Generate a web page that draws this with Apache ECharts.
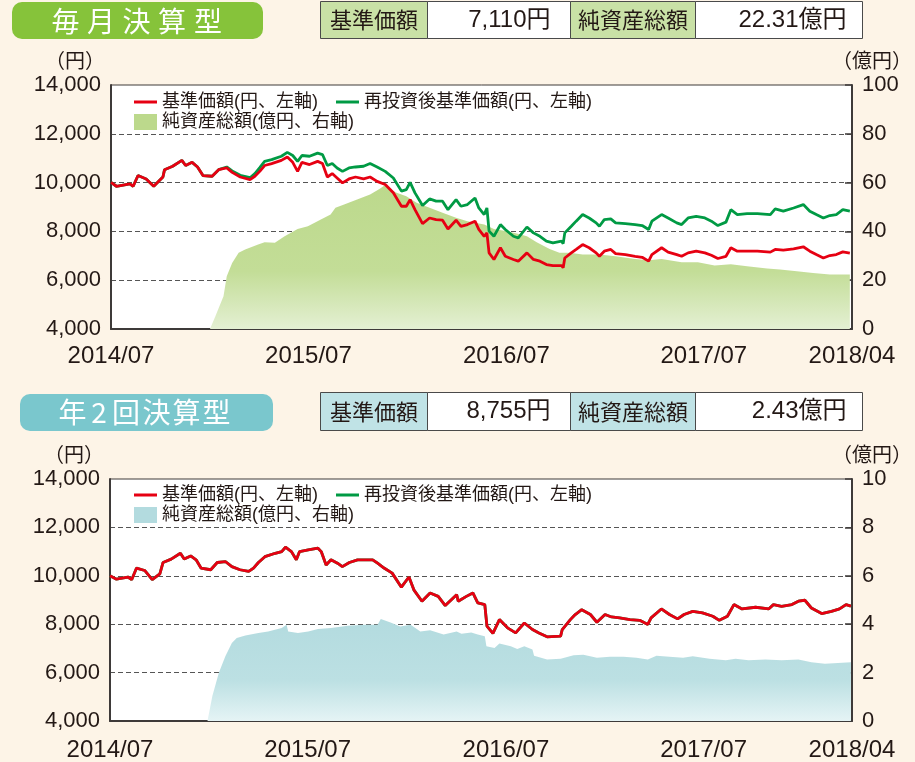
<!DOCTYPE html>
<html>
<head>
<meta charset="utf-8">
<script src="https://cdn.jsdelivr.net/npm/echarts@6/dist/echarts.min.js"></script>
<style>
html, body { margin: 0; padding: 0; background: #fdf4e7; }
#chart { width: 915px; height: 762px; }
</style>
</head>
<body>
<div id="chart"></div>
<script>
// ---- 毎月決算型 ----
var lineDatesM = ['2014-07-01','2014-07-11','2014-08-05','2014-08-11','2014-08-20','2014-09-04','2014-09-18','2014-10-05','2014-10-08','2014-10-23','2014-11-09','2014-11-16','2014-11-28','2014-12-08','2014-12-18','2015-01-04','2015-01-16','2015-01-31','2015-02-10','2015-02-25','2015-03-15','2015-03-24','2015-04-02','2015-04-11','2015-04-24','2015-05-12','2015-05-23','2015-06-02','2015-06-11','2015-06-19','2015-07-03','2015-07-18','2015-07-27','2015-08-05','2015-08-14','2015-08-23','2015-09-02','2015-09-14','2015-09-26','2015-10-11','2015-10-23','2015-11-05','2015-11-20','2015-12-05','2015-12-20','2015-12-29','2016-01-05','2016-01-14','2016-01-28','2016-02-10','2016-02-22','2016-03-05','2016-03-15','2016-03-30',
  '2016-04-08','2016-04-20','2016-05-04','2016-05-11','2016-05-21','2016-05-26','2016-05-30','2016-06-08','2016-06-20','2016-06-29','2016-07-14','2016-07-23','2016-08-08','2016-08-20','2016-09-01','2016-09-13','2016-09-25','2016-10-11','2016-10-14','2016-10-17','2016-10-29','2016-11-07','2016-11-19','2016-12-01','2016-12-14','2016-12-20','2016-12-29','2017-01-10','2017-01-19','2017-02-06','2017-02-24','2017-03-09','2017-03-21','2017-03-27','2017-04-14','2017-04-26','2017-05-12','2017-05-21','2017-06-02','2017-06-17','2017-07-03','2017-07-15','2017-07-27','2017-08-11','2017-08-20','2017-09-01','2017-09-19','2017-10-08','2017-11-01','2017-11-10','2017-11-25','2017-12-14','2018-01-01','2018-01-13','2018-01-25','2018-02-07','2018-02-19','2018-03-03','2018-03-15','2018-03-28'];
var navM = [10010,9850,9950,9850,10290,10150,9850,10230,10530,10670,10910,10700,10830,10640,10290,10260,10530,10600,10420,10230,10120,10260,10460,10700,10780,10910,11050,10830,10460,10830,10740,10870,10780,10230,10370,10190,9990,10150,10230,10150,10230,10050,9920,9580,9030,9030,9300,8890,8320,8550,8480,8460,8100,8460,
  8210,8280,8420,8080,7800,7940,7120,6850,7330,6980,6850,6780,7120,6850,6780,6640,6600,6600,6510,6910,7120,7260,7460,7330,7120,6980,7190,7260,7090,7050,6980,6940,6780,7050,7330,7150,7050,6980,7120,7190,7120,7020,6890,6980,7330,7190,7190,7190,7150,7260,7230,7280,7370,7190,7050,6910,7010,7050,7160,7110];
var reinvM = [10010,9850,9950,9850,10290,10150,9850,10230,10530,10670,10910,10700,10830,10640,10290,10260,10530,10640,10480,10300,10200,10370,10610,10870,10940,11080,11240,11110,10870,11110,11080,11210,11150,10700,10780,10600,10460,10600,10640,10670,10780,10640,10460,10190,9650,9710,10010,9580,9060,9330,9240,9240,8890,9300,
  9030,9100,9370,8960,8690,8960,8010,7800,8280,8080,7800,7730,8180,7940,7800,7600,7530,7600,7500,7940,8210,8420,8690,8550,8350,8210,8480,8510,8350,8320,8280,8240,8080,8420,8690,8550,8350,8280,8550,8620,8550,8420,8240,8380,8890,8690,8730,8730,8690,8920,8830,8960,9100,8830,8690,8550,8650,8690,8890,8830];
var assetDatesM = ['2014-12-31','2015-01-10','2015-01-25','2015-01-31','2015-02-10','2015-02-22','2015-03-06','2015-03-30','2015-04-11','2015-04-30','2015-05-18','2015-06-11','2015-06-30','2015-07-24','2015-08-11','2015-08-20','2015-09-05','2015-09-29','2015-10-23','2015-11-10','2015-11-20','2015-11-29','2015-12-11','2015-12-29','2016-01-17','2016-02-10','2016-03-05','2016-03-30','2016-04-20','2016-05-21','2016-05-30','2016-06-08','2016-07-02','2016-07-20','2016-08-08','2016-08-26','2016-09-19','2016-10-07','2016-10-26','2016-11-19','2016-12-20','2017-01-19','2017-02-24','2017-03-21','2017-04-14','2017-05-21','2017-06-20','2017-07-21','2017-08-20','2017-09-19','2017-10-26','2017-11-19','2017-12-20','2018-01-19','2018-02-19','2018-03-28'];
var assetsM = [0,5.2,13.4,21.6,27.1,31.2,32.6,34.6,35.6,35.3,38.0,41.0,42.1,44.9,46.9,49.7,51.0,53.1,55.1,57.5,59.0,57.2,55.8,54.4,51.7,49.7,47.6,45.6,44.2,42.8,41.9,41.0,40.1,39.1,38.0,35.6,32.8,31.2,31.2,30.5,30.5,29.8,28.7,28.2,28.7,27.4,27.4,26.0,26.5,25.7,24.8,24.4,23.7,23.0,22.3,22.3];
var infoM = ['7,110円', '22.31億円'];

// ---- 年2回決算型 ----
var lineDatesS = ['2014-07-01','2014-07-13','2014-08-03','2014-08-10','2014-08-19','2014-09-03','2014-09-17','2014-10-01','2014-10-07','2014-10-22','2014-11-08','2014-11-15','2014-11-27','2014-12-07','2014-12-16','2015-01-03','2015-01-15','2015-01-30','2015-02-11','2015-02-26','2015-03-14','2015-03-23','2015-04-01','2015-04-13','2015-05-02','2015-05-14','2015-05-21','2015-06-01','2015-06-10','2015-06-16','2015-07-02','2015-07-20','2015-07-26','2015-08-04','2015-08-13','2015-08-25','2015-09-03','2015-09-16','2015-10-01','2015-10-20','2015-10-29','2015-11-07','2015-11-19','2015-12-04','2015-12-21','2016-01-04','2016-01-13','2016-01-28','2016-02-12','2016-02-27','2016-03-11','2016-04-01',
  '2016-04-04','2016-04-19','2016-05-01','2016-05-10','2016-05-23','2016-05-27','2016-06-07','2016-06-19','2016-07-04','2016-07-19','2016-08-04','2016-08-19','2016-08-31','2016-09-15','2016-10-10','2016-10-13','2016-10-28','2016-11-06','2016-11-18','2016-12-04','2016-12-16','2016-12-31','2017-01-12','2017-01-27','2017-02-15','2017-03-05','2017-03-20','2017-03-26','2017-04-14','2017-04-29','2017-05-14','2017-05-26','2017-06-11','2017-06-29','2017-07-18','2017-07-30','2017-08-14','2017-08-26','2017-09-10','2017-10-05','2017-10-29','2017-11-07','2017-11-22','2017-12-11','2017-12-23','2018-01-04','2018-01-16','2018-02-04','2018-02-22','2018-03-09','2018-03-21','2018-03-30'];
var navS = [10000,9860,9950,9840,10320,10220,9840,10080,10550,10690,10930,10690,10820,10660,10320,10250,10550,10590,10380,10250,10180,10320,10550,10790,10930,11000,11180,11000,10660,11000,11070,11140,11000,10450,10660,10520,10380,10550,10660,10660,10660,10520,10320,10110,9530,9950,9420,8950,9290,9150,8770,9220,
  8950,9150,9290,8880,8810,7920,7620,8190,7850,7640,8050,7780,7640,7480,7510,7780,8190,8400,8600,8400,8080,8400,8300,8260,8190,8160,7990,8260,8630,8400,8220,8400,8530,8470,8330,8160,8330,8810,8630,8700,8630,8810,8740,8810,8950,8990,8670,8440,8530,8630,8810,8750];
var assetDatesS = ['2014-12-28','2015-01-06','2015-01-18','2015-01-30','2015-02-11','2015-02-20','2015-03-08','2015-04-01','2015-04-19','2015-05-14','2015-05-23','2015-05-26','2015-06-13','2015-07-02','2015-07-20','2015-08-13','2015-09-13','2015-10-14','2015-11-07','2015-11-13','2015-12-01','2015-12-19','2016-01-07','2016-01-25','2016-02-12','2016-03-08','2016-04-01','2016-04-10','2016-04-28','2016-05-10','2016-05-23','2016-05-26','2016-06-10','2016-06-19','2016-07-10','2016-07-22','2016-08-04','2016-08-19','2016-08-22','2016-09-15','2016-10-10','2016-11-03','2016-11-21','2016-12-16','2017-01-09','2017-02-03','2017-02-27','2017-03-20','2017-04-05','2017-04-29','2017-05-24','2017-06-11','2017-07-12','2017-08-11','2017-08-29','2017-09-22','2017-10-23','2017-11-22','2017-12-23','2018-01-16','2018-02-10','2018-03-06','2018-03-30'];
var assetsS = [0,1.03,1.99,2.68,3.22,3.43,3.53,3.64,3.70,3.84,3.98,3.70,3.64,3.70,3.80,3.84,3.94,3.98,3.98,4.21,4.07,3.91,3.98,3.70,3.75,3.57,3.70,3.61,3.66,3.57,3.50,3.09,3.02,3.20,3.09,2.98,3.09,2.95,2.70,2.54,2.57,2.72,2.74,2.61,2.65,2.65,2.61,2.54,2.70,2.65,2.61,2.68,2.57,2.51,2.57,2.51,2.54,2.51,2.54,2.43,2.37,2.40,2.43];
var infoS = ['8,755円', '2.43億円'];

var xTickLabels = ['2014/07', '2015/07', '2016/07', '2017/07', '2018/04'];
var infoLabels = ['基準価額', '純資産総額'];
var seriesNames = ['基準価額(円、左軸)', '再投資後基準価額(円、左軸)', '純資産総額(億円、右軸)'];

var FONT = '"Liberation Sans", "Noto Sans CJK JP", sans-serif';
var CJK = '"Noto Sans CJK JP", sans-serif';
var TXT = '#231815';
var AXIS = '#3e3a39';
var RED = '#e60012';
var GREEN = '#009a44';

function toTime(d) {
  return +echarts.time.parse(d);
}

// x positions of the date ticks, taken from the tick labels themselves
var tickTimes = xTickLabels.map(function (l) {
  return toTime(l.replace('/', '-') + '-01');
});

function labelForTime(v) {
  var i = tickTimes.indexOf(v);
  return i >= 0 ? xTickLabels[i] : '';
}

function pairs(dates, vals) {
  return dates.map(function (d, i) { return [toTime(d), vals[i]]; });
}

function xAxisFor(g, margin) {
  return {
    type: 'value', gridIndex: g,
    min: tickTimes[0], max: tickTimes[tickTimes.length - 1],
    axisLine: { lineStyle: { color: AXIS, width: 2 } },
    axisTick: { inside: true, length: 6, customValues: tickTimes.slice(1, -1), lineStyle: { color: AXIS, width: 1.5 } },
    axisLabel: {
      customValues: tickTimes, fontSize: 24, color: TXT, fontFamily: FONT, margin: margin,
      formatter: labelForTime
    },
    splitLine: { show: false }
  };
}

function leftAxisFor(g) {
  return {
    type: 'value', gridIndex: g, position: 'left',
    min: 4000, max: 14000, interval: 2000,
    name: '（円）', nameLocation: 'end', nameGap: 15,
    nameTextStyle: { fontSize: 20, color: TXT, fontFamily: CJK, align: 'center', padding: [0, 72, 0, 0] },
    axisLine: { show: true, lineStyle: { color: AXIS, width: 2 } },
    axisTick: { show: false },
    axisLabel: {
      fontSize: 22, color: TXT, fontFamily: FONT, margin: 10,
      formatter: function (v) { return v.toLocaleString('en-US'); }
    },
    splitLine: { show: true, showMinLine: false, showMaxLine: false, lineStyle: { type: [5, 3], color: '#555', width: 1 } }
  };
}

function rightAxisFor(g, max, interval) {
  return {
    type: 'value', gridIndex: g, position: 'right',
    min: 0, max: max, interval: interval,
    name: '（億円）', nameLocation: 'end', nameGap: 15,
    nameTextStyle: { fontSize: 20, color: TXT, fontFamily: CJK, align: 'center', padding: [0, 0, 0, 40] },
    axisLine: { show: true, lineStyle: { color: AXIS, width: 2 } },
    axisTick: { show: true, inside: true, length: 7, lineStyle: { color: AXIS, width: 1.5 } },
    axisLabel: { fontSize: 22, color: TXT, fontFamily: FONT, margin: 10 },
    splitLine: { show: false }
  };
}

function areaSeries(g, dates, vals, top, mid, bottom) {
  return {
    type: 'line', name: seriesNames[2], xAxisIndex: g, yAxisIndex: g * 2 + 1,
    data: pairs(dates, vals), symbol: 'none', silent: true,
    lineStyle: { width: 0 },
    itemStyle: { color: top },
    areaStyle: {
      opacity: 1,
      color: new echarts.graphic.LinearGradient(0, 0, 0, 1, [
        { offset: 0, color: top }, { offset: 0.6, color: mid }, { offset: 1, color: bottom }
      ])
    }
  };
}

function lineSeries(g, nameIdx, dates, vals, color) {
  return {
    type: 'line', name: seriesNames[nameIdx], xAxisIndex: g, yAxisIndex: g * 2,
    data: pairs(dates, vals), symbol: 'none', silent: true,
    itemStyle: { color: color },
    lineStyle: { color: color, width: 2.8 }
  };
}

function legendsFor(top, areaColor) {
  var common = {
    left: 134, padding: 0, icon: 'rect', itemWidth: 23, itemGap: 18, selectedMode: false,
    itemStyle: { borderWidth: 0 },
    textStyle: { fontSize: 18, color: TXT, fontFamily: FONT }
  };
  return [
    Object.assign({}, common, { top: top, itemHeight: 3, data: [seriesNames[0], seriesNames[1]] }),
    Object.assign({}, common, { top: top + 20, itemHeight: 16, data: [{ name: seriesNames[2], itemStyle: { color: areaColor } }] })
  ];
}

function titlePill(x, y, w, color, text, centers, cy) {
  var els = [{ type: 'rect', shape: { x: x, y: y, width: w, height: 37, r: 10 }, style: { fill: color } }];
  text.split('').forEach(function (ch, i) {
    els.push({ type: 'text', style: { text: ch, x: centers[i], y: cy, fill: '#fff', fontSize: 28, fontFamily: CJK,
      textAlign: 'center', align: 'center', textVerticalAlign: 'middle', verticalAlign: 'middle' } });
  });
  return els;
}

function infoTable(y, h, labelFill, vals) {
  var cols = [320.5, 427.5, 570.5, 695.5, 862.5];
  var els = [];
  for (var i = 0; i < 4; i++) {
    els.push({ type: 'rect', shape: { x: cols[i], y: y, width: cols[i + 1] - cols[i], height: h },
      style: { fill: i % 2 === 0 ? labelFill : '#fff', stroke: '#4a4a4a', lineWidth: 1 } });
  }
  var cy = y + h / 2;
  [0, 1].forEach(function (k) {
    els.push({ type: 'text', style: { text: infoLabels[k], x: (cols[k * 2] + cols[k * 2 + 1]) / 2, y: cy, fill: TXT,
      fontSize: 22, fontFamily: CJK, textAlign: 'center', align: 'center', textVerticalAlign: 'middle', verticalAlign: 'middle' } });
    els.push({ type: 'text', style: { text: vals[k], x: cols[k * 2 + 2] - (k === 0 ? 20 : 16), y: cy, fill: TXT,
      fontSize: 24, fontFamily: FONT, textAlign: 'right', align: 'right', textVerticalAlign: 'middle', verticalAlign: 'middle' } });
  });
  return els;
}

var chart = echarts.init(document.getElementById('chart'), null, { renderer: 'canvas' });

var option = {
  backgroundColor: '#fdf4e7',
  animation: false,
  grid: [
    { left: 111, top: 85, width: 750, height: 244, show: true, backgroundColor: '#fff', borderColor: AXIS, borderWidth: 1 },
    { left: 110, top: 479, width: 749, height: 243, show: true, backgroundColor: '#fff', borderColor: AXIS, borderWidth: 1 }
  ],
  xAxis: [xAxisFor(0, 15), xAxisFor(1, 17)],
  yAxis: [leftAxisFor(0), rightAxisFor(0, 100, 20), leftAxisFor(1), rightAxisFor(1, 10, 2)],
  legend: legendsFor(93, '#bcd98c').concat(legendsFor(486, '#b3dbdf')),
  series: [
    areaSeries(0, assetDatesM, assetsM, '#bcd98c', '#c3dd97', '#e4f0d3'),
    lineSeries(0, 1, lineDatesM, reinvM, GREEN),
    lineSeries(0, 0, lineDatesM, navM, RED),
    areaSeries(1, assetDatesS, assetsS, '#b3dbdf', '#bce0e3', '#e5f4f5'),
    lineSeries(1, 1, lineDatesS, navS, GREEN),
    lineSeries(1, 0, lineDatesS, navS, RED)
  ],
  graphic: [].concat(
    titlePill(12, 2, 251, '#86c33a', '毎月決算型', [65.5, 101, 136.5, 172, 208], 21),
    titlePill(20, 394, 253, '#7ac7cd', '年2回決算型', [72.5, 99, 126, 156.5, 186.5, 216.5], 412),
    infoTable(1.5, 37, '#c9e1a6', infoM),
    infoTable(392.5, 38, '#c0e3e6', infoS)
  )
};

chart.setOption(option);
</script>
</body>
</html>
